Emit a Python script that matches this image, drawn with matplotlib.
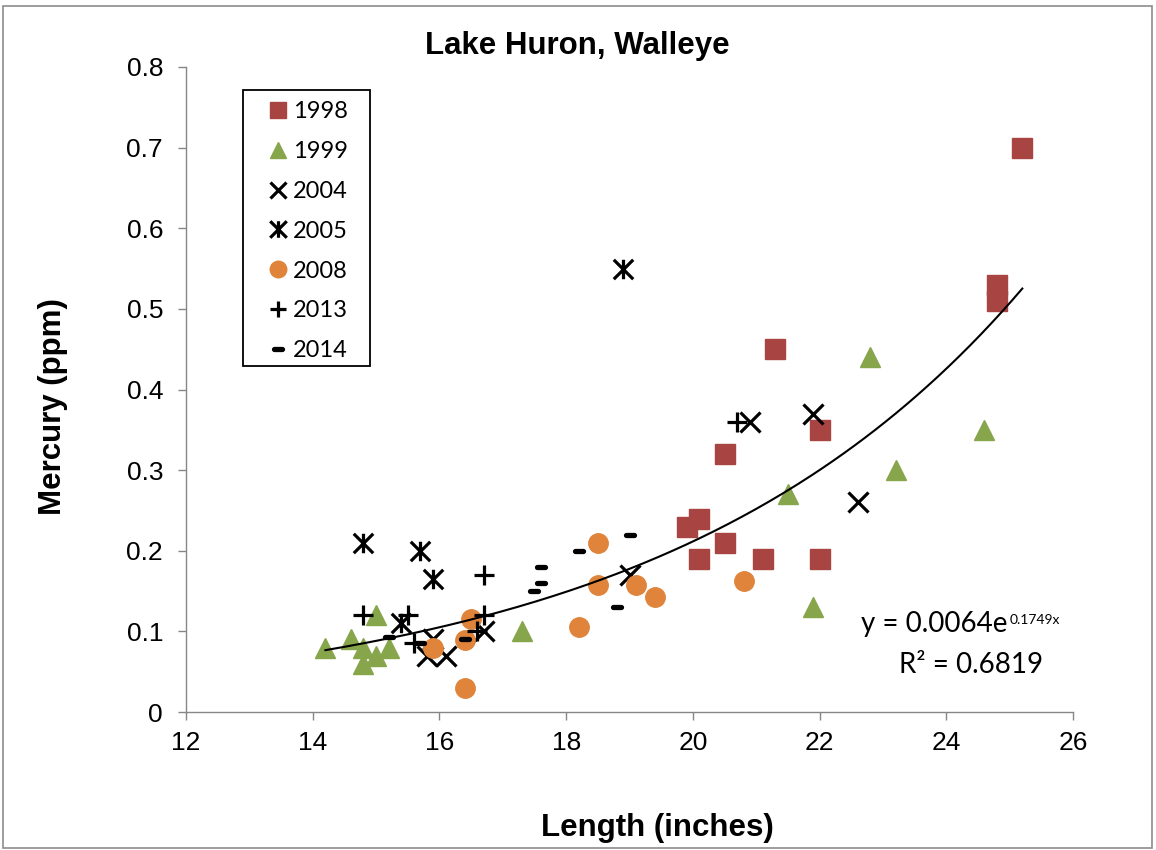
import numpy as np
import matplotlib
matplotlib.use("Agg")
import matplotlib.pyplot as plt
from matplotlib.path import Path
from matplotlib.markers import MarkerStyle
from matplotlib.patches import Rectangle

plt.rcParams['font.family'] = ['Liberation Sans', 'DejaVu Sans']

# Walleye length (inches) vs mercury (ppm), by sampling year
x_1998 = [25.2, 24.8, 24.8, 21.3, 22.0, 20.5, 19.9, 20.1, 20.1, 20.5, 21.1, 22.0]
y_1998 = [0.70, 0.53, 0.51, 0.45, 0.35, 0.32, 0.23, 0.24, 0.19, 0.21, 0.19, 0.19]

x_1999 = [14.2, 14.6, 14.8, 14.8, 15.0, 15.0, 15.2, 17.3, 21.5, 21.9, 22.8, 23.2, 24.6]
y_1999 = [0.08, 0.09, 0.08, 0.06, 0.12, 0.07, 0.08, 0.10, 0.27, 0.13, 0.44, 0.30, 0.35]

x_2004 = [19.0, 20.9, 21.9, 22.6, 15.8, 16.1, 15.9, 16.7]
y_2004 = [0.17, 0.36, 0.37, 0.26, 0.07, 0.07, 0.09, 0.10]

x_2005 = [18.9, 14.8, 15.7, 15.9, 15.4]
y_2005 = [0.55, 0.21, 0.20, 0.165, 0.11]

x_2008 = [18.5, 18.5, 19.1, 19.4, 18.2, 20.8, 16.4, 16.5, 16.4, 15.9]
y_2008 = [0.21, 0.157, 0.158, 0.143, 0.105, 0.163, 0.03, 0.115, 0.089, 0.08]

x_2013 = [20.7, 16.7, 14.8, 15.5, 16.7, 15.6, 16.6]
y_2013 = [0.36, 0.17, 0.12, 0.12, 0.12, 0.086, 0.10]

x_2014 = [19.0, 18.2, 17.6, 17.6, 17.5, 18.8, 15.2, 15.7, 16.4]
y_2014 = [0.22, 0.20, 0.18, 0.16, 0.15, 0.13, 0.093, 0.086, 0.091]

# exponential trendline reported on the chart
fit_a = 0.0064
fit_b = 0.1749
fit_x_range = [14.2, 25.2]

red = '#A84442'
green = '#87A54B'
orange = '#DF843A'

fig = plt.figure(figsize=(11.56, 8.5), dpi=100)
ax = fig.add_axes([186 / 1156, 1 - 712 / 850, (1073 - 186) / 1156, (712 - 67) / 850])

# asterisk marker = x with a vertical bar
star = Path([(-1, -1), (1, 1), (-1, 1), (1, -1), (0, -1), (0, 1)],
            [Path.MOVETO, Path.LINETO] * 3)
dash = MarkerStyle('_', capstyle='round')

ax.plot(x_1998, y_1998, ls='none', marker='s', ms=14, mfc=red, mec=red, label='1998')
ax.plot(x_1999, y_1999, ls='none', marker='^', ms=14, mfc=green, mec=green, label='1999')
ax.plot(x_2004, y_2004, ls='none', marker='x', ms=14, mew=2.3, color='black', label='2004')
ax.plot(x_2005, y_2005, ls='none', marker=star, ms=14, mew=2.3, mfc='none', color='black', label='2005')
ax.plot(x_2008, y_2008, ls='none', marker='o', ms=14, mfc=orange, mec=orange, label='2008')
ax.plot(x_2013, y_2013, ls='none', marker='+', ms=14, mew=2.3, color='black', label='2013')
ax.plot(x_2014, y_2014, ls='none', marker=dash, ms=6, mew=3.8, color='black', label='2014')

xs = np.linspace(fit_x_range[0], fit_x_range[1], 200)
ax.plot(xs, fit_a * np.exp(fit_b * xs), color='black', lw=1.5, zorder=5)

ax.set_xlim(12, 26)
ax.set_ylim(0, 0.8)
ax.set_xticks(np.arange(12, 27, 2))
ax.set_yticks(np.arange(0, 0.81, 0.1))
ax.set_yticklabels(['0', '0.1', '0.2', '0.3', '0.4', '0.5', '0.6', '0.7', '0.8'])

for s in ['top', 'right']:
    ax.spines[s].set_visible(False)
for s in ['left', 'bottom']:
    ax.spines[s].set_color('#868686')
    ax.spines[s].set_linewidth(1)
ax.tick_params(axis='both', direction='out', length=5.5, width=1, color='#868686', labelsize=19)
ax.tick_params(axis='x', pad=8)
ax.tick_params(axis='y', pad=11)

# legend box drawn separately so its size matches
box = Rectangle((243 / 1156, 1 - 366 / 850), 127 / 1156, 276 / 850, fill=True,
                facecolor='white', edgecolor='black', lw=1.3,
                transform=fig.transFigure, zorder=6, clip_on=False)
ax.add_patch(box)
leg = ax.legend(loc='upper left', bbox_to_anchor=(266 / 1156, 1 - 101 / 850),
                bbox_transform=fig.transFigure, borderaxespad=0, frameon=False,
                prop={'family': 'Lato', 'size': 17},
                handlelength=1.0, handletextpad=0.15, borderpad=0, labelspacing=0.8,
                markerscale=0.85)
leg.set_zorder(7)

eq = ax.text(22.66, 0.0988, 'y = 0.0064e', fontsize=20, family='Lato', ha='left', va='baseline')
ax.annotate('0.1749x', xy=(1.0, 0.9), xycoords=eq, xytext=(1, 0), textcoords='offset points',
            fontsize=10, family='Lato', ha='left', va='top')
ax.text(24.39, 0.0478, 'R² = 0.6819', fontsize=20, family='Lato', ha='center', va='baseline')

fig.text(577 / 1156, 1 - 46 / 850, 'Lake Huron, Walleye', fontsize=22.5, fontweight='bold',
         ha='center', va='center')
fig.text(53 / 1156, 1 - 407 / 850, 'Mercury (ppm)', fontsize=22.5, fontweight='bold',
         rotation=90, ha='center', va='center')
fig.text(657 / 1156, 1 - 828 / 850, 'Length (inches)', fontsize=22.5, fontweight='bold',
         ha='center', va='center')

fig.patches.append(Rectangle((3 / 1156, 2 / 850), 1149 / 1156, 842 / 850, fill=False,
                             edgecolor='#8C8C8C', lw=1.2, transform=fig.transFigure))

fig.savefig('out.png', dpi=100)
